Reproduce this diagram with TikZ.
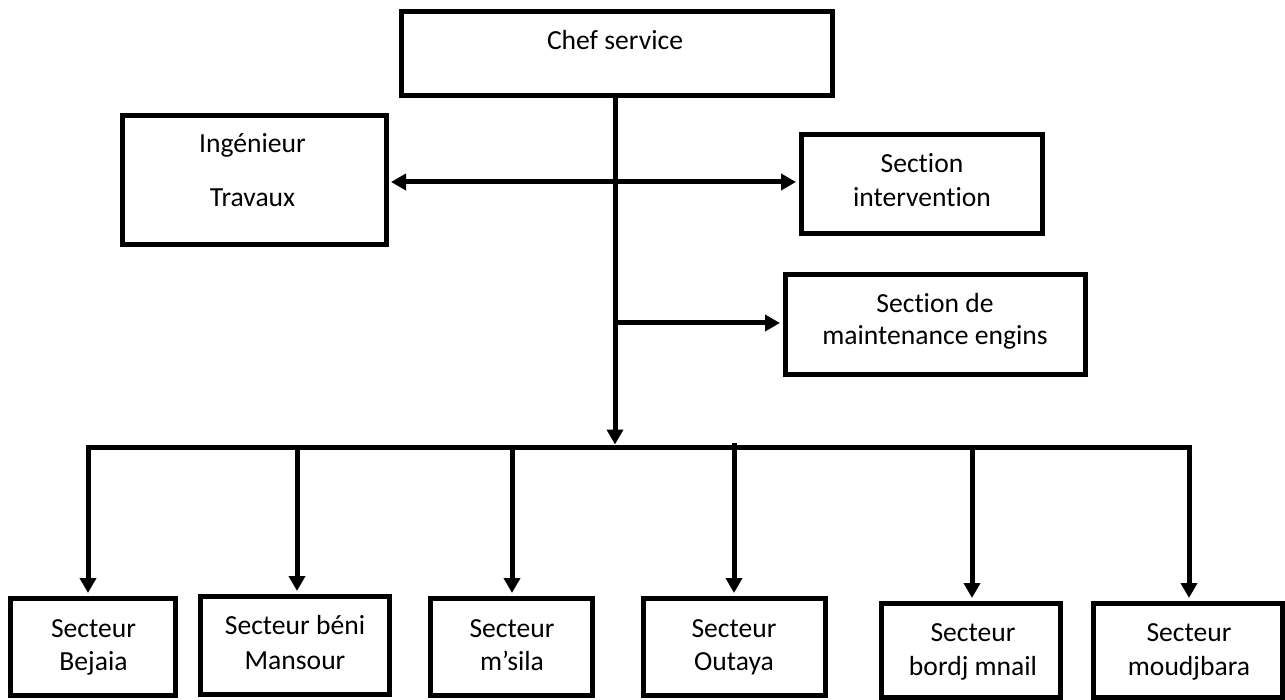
\documentclass[tikz,border=0pt]{standalone}
\usepackage{fontspec}
\setmainfont{Carlito}[Ligatures=NoCommon]
\usetikzlibrary{arrows.meta}
\begin{document}
\begin{tikzpicture}[x=1pt,y=-1pt,
  box/.style={draw,line width=5pt,inner sep=0pt},
  txt/.style={inner sep=0pt,anchor=base,font=\fontsize{27.6}{33}\selectfont},
  link/.style={line width=5pt,line join=miter},
  arr/.style={link,-{Triangle[length=15pt,width=16pt]},shorten >=2.5pt},
  arrboth/.style={link,{Triangle[length=15pt,width=16pt]}-{Triangle[length=15pt,width=16pt]},shorten >=2.5pt,shorten <=2.5pt}]
\useasboundingbox (0,0) rectangle (1285,700);

% boxes
\node[box,minimum width=431pt,minimum height=84pt]  (chef)   at (616.5,54) {};
\node[box,minimum width=264pt,minimum height=129pt] (ing)    at (254,180.5) {};
\node[box,minimum width=241pt,minimum height=99pt]  (sint)   at (921.5,184.5) {};
\node[box,minimum width=300pt,minimum height=100pt] (smaint) at (935,325) {};
\node[box,minimum width=165pt,minimum height=97pt]  (b1) at (92.5,646.5) {};
\node[box,minimum width=189pt,minimum height=98pt]  (b2) at (294.5,645) {};
\node[box,minimum width=162pt,minimum height=97pt]  (b3) at (511,646.5) {};
\node[box,minimum width=182pt,minimum height=97pt]  (b4) at (734,646.5) {};
\node[box,minimum width=179pt,minimum height=94pt]  (b5) at (970.5,650) {};
\node[box,minimum width=189pt,minimum height=94pt]  (b6) at (1187.5,650) {};

% labels
\node[txt] (chef-t)  at (615,50) {Chef service};
\node[txt] (ing-t1)  at (252.5,153) {Ingénieur};
\node[txt] (ing-t2)  at (252.5,207) {Travaux};
\node[txt] (sint-t1) at (922,173) {Section};
\node[txt] (sint-t2) at (922,207) {intervention};
\node[txt] (sm-t1)   at (935,313) {Section de};
\node[txt] (sm-t2)   at (935,345) {maintenance engins};
\node[txt] (b1-t1) at (93.5,637) {Secteur};
\node[txt] (b1-t2) at (93.5,670) {Bejaia};
\node[txt] (b2-t1) at (295,634) {Secteur béni};
\node[txt] (b2-t2) at (295,669) {Mansour};
\node[txt] (b3-t1) at (512,637) {Secteur};
\node[txt] (b3-t2) at (512,670) {m’sila};
\node[txt] (b4-t1) at (734,637) {Secteur};
\node[txt] (b4-t2) at (734,670) {Outaya};
\node[txt] (b5-t1) at (973,641) {Secteur};
\node[txt] (b5-t2) at (973,675) {bordj mnail};
\node[txt] (b6-t1) at (1189,641) {Secteur};
\node[txt] (b6-t2) at (1189,675) {moudjbara};

% junction points
\coordinate (hsplit) at (615,182);
\coordinate (msplit) at (615,323);
\coordinate (bus)    at (615,447);
\coordinate (j1) at (88,447);
\coordinate (j2) at (297,447);
\coordinate (j3) at (512,447);
\coordinate (j4) at (734,443);
\coordinate (j5) at (972,447);
\coordinate (j6) at (1189,447);

% trunk from the head of service down to the bus
\draw[arr] (chef.south -| bus) -- (bus);
% side branches
\draw[arrboth] (ing.east |- hsplit) -- (sint.west |- hsplit);
\draw[arr] (msplit) -- (smaint.west |- msplit);
% bus with its two end drops
\draw[arrboth] (j1 |- b1.north) -- (j1) -- (j6) -- (j6 |- b6.north);
% inner drops
\draw[arr] (j2) -- (j2 |- b2.north);
\draw[arr] (j3) -- (j3 |- b3.north);
\draw[arr] (j4) -- (j4 |- b4.north);
\draw[arr] (j5) -- (j5 |- b5.north);
\end{tikzpicture}
\end{document}
